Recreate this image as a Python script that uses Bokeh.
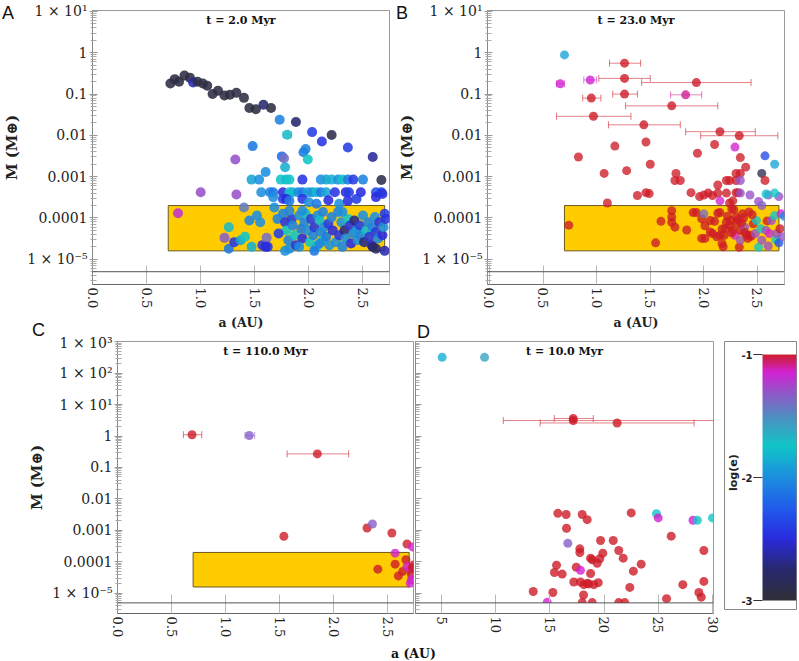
import math
import numpy as np
from bokeh.plotting import figure
from bokeh.layouts import row, column
from bokeh.models import (Range1d, FixedTicker, Span, Label, LinearColorMapper,
                          ColumnDataSource, BoxAnnotation, Div)
from bokeh.core.properties import value
from bokeh.embed import file_html
from bokeh.resources import INLINE

# ------------------------------------------------------------------ data
# Panel A (t = 2.0 Myr): semi-major axis (AU), mass (Earth masses), log(e)
A_a = [
    0.72, 0.76, 0.80, 0.85, 0.90, 0.93, 0.97, 1.02, 1.06, 1.11,
    1.16, 1.22, 1.27, 1.33, 1.40, 1.45, 1.51, 1.58, 1.65,
    1.73, 1.88, 2.03, 2.12, 2.21, 1.48, 1.75, 1.95, 1.97, 1.99,
    2.36, 2.59, 1.32, 1.00, 1.33, 0.79, 2.67, 1.60, 1.78, 1.77,
    1.47, 1.54, 1.74, 1.79, 1.82, 1.94, 2.11, 2.16, 2.21, 2.27,
    2.31, 2.36, 2.41, 2.50,
    1.56, 1.64, 1.67, 1.76, 1.82, 1.85, 1.90, 1.94, 1.99, 2.03,
    2.07, 2.11, 2.16, 2.24, 2.34, 2.37, 2.48, 2.62, 2.67,
    1.67, 1.76, 1.79, 1.82, 1.94, 2.00, 2.07, 2.18, 2.28, 2.36,
    2.44, 2.62, 2.68, 1.40,
    1.26, 1.22, 1.26, 1.31, 1.37, 1.41, 1.45, 1.52, 1.55, 1.47,
    1.57, 1.61, 1.62, 1.71, 1.68, 1.60,
    1.76, 1.78, 1.79, 1.81, 1.82, 1.84, 1.85, 1.87, 1.88, 1.91,
    1.93, 1.94, 1.96, 1.97, 1.99, 2.01, 2.02, 2.04, 2.05, 2.07,
    2.08, 2.10, 2.11, 2.13, 2.14, 2.16, 2.18, 2.19, 2.21, 2.22,
    2.25, 2.27, 2.28, 2.30, 2.31, 2.33, 2.34, 2.36, 2.38, 2.39,
    2.41, 2.42, 2.44, 2.45, 2.47, 2.48, 2.50, 2.51, 2.53, 2.55,
    2.56, 2.58, 2.59, 2.61, 2.62, 2.64, 2.65, 2.68, 2.69, 2.70,
    2.71, 2.59, 2.62, 1.82, 1.94, 2.13, 2.31, 2.10, 1.91, 2.05,
    2.70, 1.72, 1.78,
]
A_m = [
    0.18, 0.23, 0.20, 0.28, 0.25, 0.19, 0.20, 0.18, 0.16, 0.10,
    0.12, 0.093, 0.096, 0.107, 0.081, 0.046, 0.043, 0.055, 0.046,
    0.024, 0.021, 0.012, 0.0071, 0.0102, 0.0055, 0.0031, 0.0039, 0.0047, 0.0026,
    0.0051, 0.0030, 0.0026, 0.00042, 0.00037, 0.00013, 0.00083, 0.0013, 0.0017, 0.0028,
    8.5e-4, 8.5e-4, 8.5e-4, 8.5e-4, 8.5e-4, 8.5e-4, 8.5e-4, 8.5e-4, 8.5e-4, 8.5e-4,
    8.5e-4, 8.5e-4, 8.5e-4, 8.5e-4,
    4.2e-4, 4.2e-4, 4.2e-4, 4.2e-4, 4.2e-4, 4.2e-4, 4.2e-4, 4.2e-4, 4.2e-4, 4.2e-4,
    4.2e-4, 4.2e-4, 4.2e-4, 4.2e-4, 4.2e-4, 4.2e-4, 4.2e-4, 4.2e-4, 4.2e-4,
    3.2e-4, 2.9e-4, 2.9e-4, 2.6e-4, 2.9e-4, 2.4e-4, 2.2e-4, 2.7e-4, 2.2e-4, 2.6e-4,
    2.9e-4, 3.2e-4, 3.8e-4, 1.8e-4,
    6.0e-5, 3.3e-5, 1.8e-5, 2.6e-5, 2.9e-5, 3.5e-5, 8.7e-5, 1.15e-4, 7.9e-5, 2.0e-5,
    2.2e-5, 3.3e-5, 2.0e-5, 9.5e-5, 1.8e-4, 2.0e-5,
    1.26e-4, 7.9e-5, 5.0e-5, 2.9e-5, 1.8e-5, 9.5e-5, 6.6e-5, 3.8e-5, 2.2e-5, 1.15e-4,
    5.5e-5, 3.2e-5, 7.9e-5, 1.26e-4, 5.0e-5, 2.6e-5, 9.5e-5, 3.8e-5, 6.0e-5, 2.0e-5,
    1.15e-4, 8.7e-5, 4.6e-5, 2.9e-5, 6.0e-5, 3.5e-5, 7.2e-5, 2.2e-5, 1.05e-4, 5.0e-5,
    2.6e-5, 1.4e-4, 3.8e-5, 7.9e-5, 2.0e-5, 5.0e-5, 3.2e-5, 9.5e-5, 6.6e-5, 2.4e-5,
    4.2e-5, 8.7e-5, 5.0e-5, 2.9e-5, 6.6e-5, 3.8e-5, 1.15e-4, 2.6e-5, 5.0e-5, 7.9e-5,
    3.5e-5, 2.2e-5, 6.0e-5, 1.05e-4, 4.6e-5, 3.2e-5, 7.9e-5, 3.8e-5, 6.0e-5, 1.26e-4,
    9.5e-5, 2.0e-5, 1.8e-5, 1.5e-4, 1.5e-4, 1.4e-4, 1.4e-4, 2.4e-5, 2.0e-5, 1.6e-5,
    1.6e-5, 4.2e-5, 1.6e-5,
]
A_e = [
    -2.95, -2.95, -2.95, -2.95, -2.95, -2.6, -2.95, -2.95, -2.95, -2.95,
    -2.95, -2.95, -2.95, -2.95, -2.95, -2.95, -2.95, -2.75, -2.95,
    -2.05, -2.75, -2.4, -2.45, -2.9, -2.1, -2.15, -2.1, -2.05, -1.75,
    -2.4, -2.65, -1.3, -1.3, -1.3, -1.2, -2.9, -2.0, -1.85, -1.4,
    -1.9, -2.0, -1.75, -1.8, -1.75, -2.45, -2.0, -1.9, -1.85, -2.0,
    -1.75, -2.1, -2.4, -2.05,
    -2.0, -2.05, -2.1, -2.5, -1.75, -1.8, -2.0, -2.1, -1.9, -2.0,
    -1.8, -2.1, -1.9, -2.45, -2.5, -2.4, -2.5, -2.3, -2.4,
    -2.0, -2.4, -2.5, -2.1, -2.45, -2.0, -2.1, -2.5, -2.0, -2.5,
    -2.4, -2.5, -2.45, -1.45,
    -1.7, -1.35, -2.1, -2.45, -1.9, -1.75, -2.05, -2.0, -2.0, -1.85,
    -2.45, -1.4, -2.4, -2.05, -2.0, -2.5,
    -2.05, -2.45, -1.75, -2.05, -2.0, -2.4, -2.05, -1.75, -2.45, -2.0,
    -2.1, -2.5, -2.05, -1.8, -2.0, -1.75, -2.4, -2.05, -2.45, -1.8,
    -2.0, -1.8, -2.05, -1.75, -2.0, -2.1, -2.4, -2.0, -2.05, -2.5,
    -2.0, -2.05, -2.45, -2.0, -2.05, -2.7, -2.0, -1.75, -2.45, -2.5,
    -2.05, -2.7, -1.95, -2.0, -2.4, -2.05, -2.0, -2.7, -1.8, -2.05,
    -2.45, -2.5, -2.05, -2.0, -2.4, -2.05, -2.45, -2.5, -2.0, -2.4,
    -2.45, -2.75, -2.8, -2.05, -2.0, -2.05, -2.0, -2.05, -2.0, -2.1,
    -2.6, -2.4, -2.0,
]
A_err_a = [1.80]
A_err_m = [0.0104]
A_err_e = [-1.7]
A_err_lo = [1.76]
A_err_hi = [1.84]

# Panel B (t = 23.0 Myr)
B_err_a = [1.26, 1.26, 1.93, 0.94, 0.66, 0.95, 1.26, 1.83, 1.70, 0.97, 1.44, 2.15, 2.33]
B_err_m = [0.56, 0.24, 0.19, 0.22, 0.178, 0.080, 0.10, 0.096, 0.052, 0.029, 0.018, 0.0123, 0.0098]
B_err_e = [-1.0, -1.0, -1.0, -1.15, -1.15, -1.0, -1.0, -1.1, -1.0, -1.0, -1.0, -1.0, -1.0]
B_err_lo = [1.12, 1.02, 1.42, 0.88, 0.625, 0.87, 1.15, 1.69, 1.27, 0.625, 1.11, 1.83, 1.97]
B_err_hi = [1.41, 1.50, 2.44, 1.00, 0.70, 1.04, 1.38, 1.98, 2.13, 1.32, 1.78, 2.48, 2.69]
B_a = [
    0.70, 1.17, 1.46, 2.10, 2.29, 0.83, 1.94, 2.57, 2.66, 2.34,
    1.50, 2.39, 1.07, 1.28, 1.74, 1.73, 1.78, 2.30, 2.34, 2.54,
    2.57, 2.21, 2.24, 2.30, 2.34, 2.13, 1.49, 1.38, 1.46, 1.88,
    1.96, 2.00, 2.04, 2.08, 2.13, 2.21, 2.15, 2.24, 2.27, 2.30,
    2.32, 2.34, 2.43, 2.51, 2.54, 2.60, 2.70, 2.58, 2.66, 1.10,
    0.74, 1.55, 1.60, 1.70, 1.70, 1.70, 1.73, 1.84, 1.90, 1.93,
    1.98, 2.00, 2.01, 1.98, 2.01, 2.06, 2.08, 2.06, 2.10, 2.13,
    2.15, 2.12, 2.15, 2.17, 2.17, 2.18, 2.19, 2.21, 2.25, 2.26,
    2.28, 2.27, 2.29, 2.30, 2.31, 2.33, 2.34, 2.34, 2.36, 2.38,
    2.40, 2.41, 2.43, 2.44, 2.46, 2.48, 2.49, 2.51, 2.53, 2.54,
    2.58, 2.59, 2.60, 2.61, 2.63, 2.66, 2.67, 2.68, 2.70, 2.71,
    2.72, 2.74, 2.75, 2.22, 2.24, 2.32, 2.37, 2.42, 2.45, 2.38,
    2.26, 2.20, 2.35,
]
B_m = [
    0.89, 0.0055, 0.0069, 0.0060, 0.0052, 0.0030, 0.0037, 0.0032, 0.0020, 0.0029,
    0.0020, 0.0017, 0.0012, 0.0014, 0.0012, 8.1e-4, 8.1e-4, 0.0012, 0.0012, 0.0012,
    8.1e-4, 8.1e-4, 8.1e-4, 8.1e-4, 8.1e-4, 6.3e-4, 3.9e-4, 3.5e-4, 4.1e-4, 4.1e-4,
    3.3e-4, 3.6e-4, 4.0e-4, 3.5e-4, 4.0e-4, 4.0e-4, 2.6e-4, 2.3e-4, 2.6e-4, 4.1e-4,
    4.1e-4, 4.0e-4, 3.6e-4, 2.5e-4, 2.0e-4, 3.6e-4, 3.3e-4, 3.8e-4, 4.0e-4, 2.3e-4,
    6.7e-5, 2.5e-5, 8.3e-5, 1.5e-4, 1.05e-4, 7.9e-5, 6.0e-5, 5.1e-5, 1.35e-4, 1.35e-4,
    9.5e-5, 1.26e-4, 6.5e-5, 3.2e-5, 3.2e-5, 4.6e-5, 4.2e-5, 8.7e-5, 8.3e-5, 1.3e-4,
    1.35e-4, 3.5e-5, 3.8e-5, 5.4e-5, 2.4e-5, 2.0e-5, 3.8e-5, 7.9e-5, 8.7e-5, 1.66e-4,
    1.58e-4, 5.0e-5, 3.8e-5, 1.05e-4, 7.4e-5, 1.95e-5, 2.9e-5, 5.0e-5, 1.26e-4, 6.0e-5,
    3.8e-5, 3.2e-5, 3.8e-5, 3.6e-5, 7.2e-5, 4.2e-5, 8.7e-5, 1.95e-5, 5.5e-5, 2.9e-5,
    5.0e-5, 8.5e-5, 2.1e-5, 4.2e-5, 8.7e-5, 1.15e-4, 3.0e-5, 4.2e-5, 2.5e-5, 5.5e-5,
    1.26e-4, 3.5e-5, 1.1e-4, 1.1e-4, 6.6e-5, 9.0e-5, 1.0e-4, 1.4e-4, 1.2e-4, 4.5e-5,
    4.4e-5, 5.6e-5, 7.6e-5,
]
B_e = [
    -1.9, -1.0, -1.0, -1.0, -1.15, -1.0, -1.0, -2.35, -1.9, -1.0,
    -1.0, -1.0, -1.0, -1.0, -1.0, -1.0, -1.0, -1.0, -1.0, -2.9,
    -1.0, -1.0, -1.0, -1.0, -1.3, -1.0, -1.0, -1.0, -1.0, -1.0,
    -1.0, -1.0, -1.0, -1.0, -1.0, -1.0, -1.15, -1.0, -1.0, -1.0,
    -1.0, -1.3, -1.3, -1.3, -1.35, -1.35, -1.3, -1.75, -1.75, -1.0,
    -1.0, -1.0, -1.0, -1.0, -1.0, -1.0, -1.0, -1.0, -1.0, -1.0,
    -1.0, -1.4, -1.0, -1.0, -1.0, -1.0, -1.0, -1.0, -1.0, -1.0,
    -1.0, -1.0, -1.0, -1.0, -1.0, -1.0, -1.0, -1.0, -1.0, -1.0,
    -1.0, -1.0, -1.15, -1.0, -1.0, -1.0, -1.3, -1.0, -1.0, -1.3,
    -1.0, -1.0, -1.0, -1.0, -1.0, -1.3, -1.75, -1.75, -1.75, -1.3,
    -1.3, -1.0, -1.3, -1.15, -1.3, -1.75, -1.75, -1.3, -2.3, -1.0,
    -1.15, -1.3, -2.0, -1.0, -1.0, -1.0, -1.0, -1.0, -1.0, -1.0,
    -1.0, -1.0, -1.0,
]

# Panel C (t = 110.0 Myr)
C_err_a = [0.69, 1.22, 1.85]
C_err_m = [1.1, 1.04, 0.27]
C_err_e = [-1.0, -1.35, -1.0]
C_err_lo = [0.61, 1.18, 1.57]
C_err_hi = [0.78, 1.27, 2.14]
C_a = [1.54, 2.31, 2.36, 2.54, 2.68, 2.73, 2.57, 2.41, 2.57, 2.67,
       2.60, 2.64, 2.68, 2.71, 2.72, 2.72, 2.73, 2.74, 2.71]
C_m = [6.5e-4, 0.0012, 0.0016, 8.3e-4, 3.7e-4, 3.0e-4, 1.9e-4, 5.9e-5, 8.5e-5, 1.17e-4,
       3.6e-5, 5.0e-5, 7.2e-5, 5.8e-5, 4.0e-5, 2.7e-5, 6.5e-5, 8.0e-5, 2.1e-5]
C_e = [-1.0, -1.0, -1.35, -1.0, -1.0, -1.15, -1.15, -1.0, -1.0, -1.0,
       -1.0, -1.0, -1.15, -1.15, -1.0, -1.15, -1.0, -1.0, -1.15]

# Panel D (t = 10.0 Myr)
D_err_a = [17.15, 17.15, 21.2]
D_err_m = [3.1, 3.6, 2.6]
D_err_e = [-1.0, -1.0, -1.0]
D_err_lo = [10.7, 15.4, 14.1]
D_err_hi = [31.5, 19.0, 28.3]
D_a = [
    5.06, 8.97, 15.73, 16.5, 17.98, 18.44, 16.53, 22.5, 24.83, 24.99,
    28.2, 28.6, 30.0, 26.19, 16.65, 19.67, 20.84, 17.76, 17.76, 18.75,
    18.9, 19.6, 19.88, 19.36, 21.35, 21.76, 23.42, 15.61, 17.43, 15.42,
    16.13, 17.82, 18.75, 22.7, 17.2, 17.82, 18.13, 18.44, 18.59, 19.05,
    19.46, 22.37, 27.26, 29.2, 28.74, 28.96, 29.2, 13.46, 15.27, 18.1,
    25.76, 14.75, 17.98, 18.9, 21.35, 21.9,
]
D_m = [
    316.0, 316.0, 0.0035, 0.0032, 0.0032, 0.0022, 0.00117, 0.0036, 0.0034, 0.0025,
    0.0021, 0.0021, 0.0025, 6.6e-4, 3.9e-4, 4.8e-4, 4.8e-4, 2.6e-4, 2.0e-4, 1.32e-4,
    1.17e-4, 1.26e-4, 1.9e-4, 9.1e-5, 2.3e-4, 1.32e-4, 8.5e-5, 7.9e-5, 6.8e-5, 4.6e-5,
    4.1e-5, 5.4e-5, 4.3e-5, 5.1e-5, 2.3e-5, 2.3e-5, 1.9e-5, 2.1e-5, 2.0e-5, 1.9e-5,
    2.2e-5, 1.55e-5, 1.9e-5, 2.3e-4, 1.07e-5, 7.6e-6, 2.4e-5, 1.15e-5, 1.07e-5, 8.9e-6,
    6.8e-6, 5.2e-6, 5.1e-6, 5.1e-6, 5.1e-6, 5.1e-6,
]
D_e = [
    -1.85, -1.6, -1.0, -1.0, -1.0, -1.0, -1.0, -1.0, -1.75, -1.15,
    -1.15, -1.75, -1.75, -1.0, -1.35, -1.0, -1.0, -1.0, -1.0, -1.0,
    -1.0, -1.0, -1.0, -1.0, -1.0, -1.0, -1.0, -1.0, -1.0, -1.0,
    -1.0, -1.15, -1.0, -1.0, -1.0, -1.0, -1.0, -1.0, -1.0, -1.0,
    -1.0, -1.0, -1.0, -1.0, -1.0, -1.0, -1.0, -1.0, -1.0, -1.0,
    -1.0, -1.15, -1.0, -1.0, -1.0, -1.0,
]

x_ticks_au = [0.0, 0.5, 1.0, 1.5, 2.0, 2.5]
x_labels_au = ["0.0", "0.5", "1.0", "1.5", "2.0", "2.5"]
x_ticks_d = [5.0, 10.0, 15.0, 20.0, 25.0, 30.0]
x_labels_d = ["5", "10", "15", "20", "25", "30"]
y_ticks_top = [1e-5, 1e-4, 1e-3, 1e-2, 1e-1, 1.0, 10.0]
y_labels_top = ["1 × 10⁻⁵", "0.0001", "0.001", "0.01", "0.1", "1", "1 × 10¹"]
y_ticks_bot = y_ticks_top + [100.0, 1000.0]
y_labels_bot = y_labels_top + ["1 × 10²", "1 × 10³"]
ecc_ticks = [-3.0, -2.0, -1.0]
ecc_labels = ["-3", "-2", "-1"]
zone_a = [0.7, 2.7]
zone_m = [1.6e-5, 2.0e-4]
floor_mass = 5e-6
panel_times = ["t = 2.0 Myr", "t = 23.0 Myr", "t = 110.0 Myr", "t = 10.0 Myr"]
panel_letters = ["A", "B", "C", "D"]

# ------------------------------------------------------------------ style
SERIF = "DejaVu Serif"
SANS = "Liberation Sans"
anchor_v = [-3.0, -2.75, -2.5, -2.25, -2.0, -1.75, -1.5, -1.3, -1.15, -1.0]
anchor_c = [(48, 48, 56), (40, 40, 112), (42, 42, 222), (32, 92, 236), (28, 142, 222),
            (16, 198, 200), (82, 140, 192), (150, 82, 202), (210, 34, 210), (205, 28, 40)]
palette = []
for v in np.linspace(-3, -1, 256):
    rgb = [int(round(np.interp(v, anchor_v, [c[k] for c in anchor_c]))) for k in range(3)]
    palette.append("#%02x%02x%02x" % tuple(rgb))
mapper = LinearColorMapper(palette=palette, low=-3, high=-1)
ecol = {"field": "e", "transform": mapper}
minor_ticks = [m * 10.0 ** k for k in range(-7, 4) for m in range(2, 10)]


def make_panel(fw, fh, bl, br, bt, bb, xr, yr):
    p = figure(frame_width=fw, frame_height=fh, x_range=Range1d(*xr), y_range=Range1d(*yr),
               y_axis_type="log", output_backend="svg", toolbar_location=None,
               min_border_left=bl, min_border_right=br, min_border_top=bt,
               min_border_bottom=bb, border_fill_color=None,
               outline_line_color="#9a9a9a")
    p.xgrid.visible = False
    p.ygrid.visible = False
    return p


def style_x(p, ticks, labels, axis_label=None):
    ax = p.xaxis[0]
    ax.ticker = FixedTicker(ticks=ticks)
    ax.major_label_overrides = {float(t): l for t, l in zip(ticks, labels)}
    ax.major_label_orientation = -math.pi / 2
    ax.major_tick_in = 19
    ax.major_tick_out = 0
    ax.major_tick_line_color = "#b8b8b8"
    ax.minor_tick_line_color = None
    ax.axis_line_color = "#666666"
    ax.major_label_text_font = SERIF
    ax.major_label_text_font_size = "13px"
    ax.major_label_text_color = "#222222"
    ax.major_label_standoff = 3
    if axis_label:
        ax.axis_label = axis_label
        ax.axis_label_text_font = SERIF
        ax.axis_label_text_font_style = "bold"
        ax.axis_label_text_font_size = "12.5px"
        ax.axis_label_text_color = "#222222"
        ax.axis_label_standoff = 4


def style_y(p, ticks, labels, show_labels=True):
    ax = p.yaxis[0]
    ax.ticker = FixedTicker(ticks=ticks, minor_ticks=minor_ticks)
    ax.axis_line_color = "#888888"
    ax.major_tick_line_color = "#999999"
    ax.minor_tick_line_color = "#aaaaaa"
    ax.major_label_text_font = SERIF
    ax.major_label_text_font_size = "14px"
    ax.major_label_text_color = "#222222"
    if show_labels:
        ax.major_label_overrides = {float(t): l for t, l in zip(ticks, labels)}
        ax.major_tick_in, ax.major_tick_out = 5, 3
        ax.minor_tick_in, ax.minor_tick_out = 4, 2
        ax.major_label_standoff = 2
        ax.axis_label = "M (M⊕)"
        ax.axis_label_text_font = SERIF
        ax.axis_label_text_font_style = "bold"
        ax.axis_label_text_font_size = "15px"
        ax.axis_label_text_color = "#222222"
        ax.axis_label_standoff = 3
    else:
        ax.major_label_overrides = {float(t): "" for t in ticks}
        ax.major_tick_in, ax.major_tick_out = 6, 0
        ax.minor_tick_in, ax.minor_tick_out = 4, 0
        ax.major_label_standoff = 0


def add_title(p, text, fw, fh):
    p.add_layout(Label(x=fw / 2, y=fh - 3, x_units="screen", y_units="screen", text=text,
                       text_font=SERIF, text_font_size="11px", text_font_style="bold",
                       text_align="center", text_baseline="top", text_color="#111111"))


def add_floor(p):
    p.add_layout(BoxAnnotation(top=floor_mass, fill_color="white", fill_alpha=1.0,
                               line_alpha=0, level="glyph"))
    p.add_layout(Span(location=floor_mass, dimension="width",
                      line_color="#555555", line_width=1))


def add_zone(p):
    p.quad(left=zone_a[0], right=zone_a[1], bottom=zone_m[0], top=zone_m[1],
           fill_color="#ffcc00", line_color="#6b5a1e", line_width=1)


def add_points(p, a, m, e, size, alpha):
    src = ColumnDataSource(dict(a=a, m=m, e=e))
    p.scatter("a", "m", source=src, size=size, fill_color=ecol,
              line_color=None, fill_alpha=alpha)


def add_err_points(p, a, m, e, lo, hi, size, alpha):
    src = ColumnDataSource(dict(a=a, m=m, e=e, lo=lo, hi=hi))
    p.segment(x0="lo", y0="m", x1="hi", y1="m", source=src, line_color=ecol,
              line_alpha=0.55, line_width=1)
    for end in ("lo", "hi"):
        p.scatter(x=end, y="m", source=src, marker="dash", angle=math.pi / 2,
                  size=7, line_color=ecol, line_alpha=0.6, line_width=1)
    p.scatter("a", "m", source=src, size=size, fill_color=ecol,
              line_color=None, fill_alpha=alpha)


def overlay_text(text, left, top, font, size, weight="normal", w=60, h=20):
    html = ('<span style="font-family:\'%s\';font-size:%s;font-weight:%s;'
            'line-height:%s;color:#111111;white-space:nowrap">%s</span>'
            % (font, size, weight, size, text))
    return Div(text=html, width=w, height=h,
               styles={"position": "absolute", "left": "%dpx" % left,
                       "top": "%dpx" % top, "margin": "0", "padding": "0"})


# ------------------------------------------------------------------ panel A
pA = make_panel(297, 274, 83, 6, 10, 50, (0.0, 2.745), (2.45e-6, 10.57))
style_x(pA, x_ticks_au, x_labels_au, "a (AU)")
style_y(pA, y_ticks_top, y_labels_top)
add_zone(pA)
add_points(pA, A_a, A_m, A_e, 10, 0.88)
add_err_points(pA, A_err_a, A_err_m, A_err_e, A_err_lo, A_err_hi, 10, 0.88)
add_floor(pA)
add_title(pA, panel_times[0], 297, 274)

# ------------------------------------------------------------------ panel B
pB = make_panel(297, 274, 80, 35, 10, 50, (-0.018, 2.752), (2.45e-6, 10.57))
style_x(pB, x_ticks_au, x_labels_au, "a (AU)")
style_y(pB, y_ticks_top, y_labels_top)
add_zone(pB)
add_points(pB, B_a, B_m, B_e, 9, 0.78)
add_err_points(pB, B_err_a, B_err_m, B_err_e, B_err_lo, B_err_hi, 9, 0.8)
add_floor(pB)
add_title(pB, panel_times[1], 297, 274)

# ------------------------------------------------------------------ panel C
pC = make_panel(296, 272, 117, 1, 7, 47, (0.0, 2.74), (2.3e-6, 1005.0))
style_x(pC, x_ticks_au, x_labels_au)
style_y(pC, y_ticks_bot, y_labels_bot)
add_zone(pC)
add_points(pC, C_a, C_m, C_e, 9, 0.8)
add_err_points(pC, C_err_a, C_err_m, C_err_e, C_err_lo, C_err_hi, 9, 0.8)
add_floor(pC)
add_title(pC, panel_times[2], 296, 272)

# ------------------------------------------------------------------ panel D
pD = make_panel(298, 272, 1, 10, 7, 47, (2.6, 30.09), (2.3e-6, 1005.0))
style_x(pD, x_ticks_d, x_labels_d)
style_y(pD, y_ticks_bot, y_labels_bot, show_labels=False)
add_points(pD, D_a, D_m, D_e, 9, 0.8)
add_err_points(pD, D_err_a, D_err_m, D_err_e, D_err_lo, D_err_hi, 9, 0.8)
add_floor(pD)
add_title(pD, panel_times[3], 298, 272)

# ------------------------------------------------------------------ colour bar
cb = figure(frame_width=72, frame_height=268, x_range=Range1d(0, 1),
            y_range=Range1d(-3.073, -0.894), output_backend="svg",
            toolbar_location=None, x_axis_location=None, y_axis_location=None,
            min_border_left=1, min_border_right=2, min_border_top=3,
            min_border_bottom=55, border_fill_color=None, outline_line_color="#888888")
cb.xgrid.visible = False
cb.ygrid.visible = False
grad = np.linspace(-3, -1, 256).reshape(256, 1)
cb.image(image=[grad], x=0.528, y=-3, dw=0.472, dh=2, color_mapper=mapper)
cb.segment(x0=0.40, x1=0.528, y0=ecc_ticks, y1=ecc_ticks, line_color="#333333", line_width=1)
cb.text(x=0.39, y=ecc_ticks, text=ecc_labels, text_font=value("DejaVu Sans"),
        text_font_style="bold", text_font_size="10px", text_align="right",
        text_baseline="middle", text_color="#222222")
cb.text(x=[0.125], y=[-1.96], text=["log(e)"], angle=math.pi / 2,
        text_font=value("DejaVu Sans"), text_font_style="bold", text_font_size="11px",
        text_align="center", text_baseline="middle", text_color="#222222")

# ------------------------------------------------------------------ outer texts
texts = [
    overlay_text(panel_letters[0], 2, 4, SANS, "18px", w=20),
    overlay_text(panel_letters[1], 396, 4, SANS, "18px", w=20),
    overlay_text(panel_letters[2], 32, 321, SANS, "18px", w=20),
    overlay_text(panel_letters[3], 417, 323, SANS, "18px", w=20),
    overlay_text("a (AU)", 391, 646, SERIF, "12.5px", "bold", w=60, h=14),
]

layout = column(row(pA, pB), row(pC, pD, cb), *texts)
open("out.html", "w").write(file_html(layout, INLINE))
